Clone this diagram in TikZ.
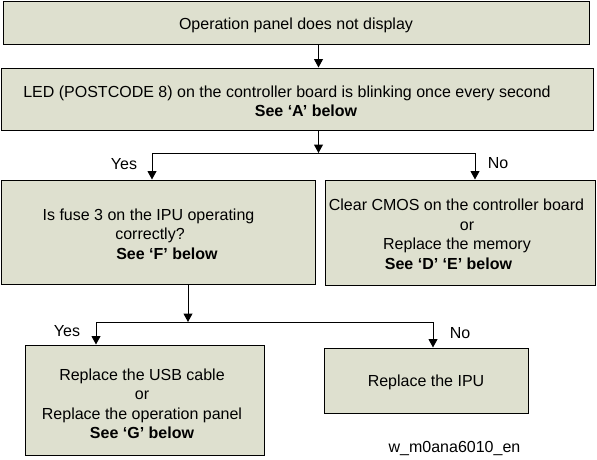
\documentclass[tikz,border=0pt]{standalone}
\usepackage{fontspec}
\setmainfont{Liberation Sans}
\usetikzlibrary{arrows.meta}
\definecolor{boxfill}{RGB}{222,224,207}
\newcommand{\padx}[1]{\rule{#1}{0pt}}
\newcommand{\padtop}[1]{\rule{0pt}{#1}}
\begin{document}
\begin{tikzpicture}[x=1pt,y=-1pt,
  box/.style={draw=black, fill=boxfill, line width=1pt, inner sep=0pt, align=center,
    font=\fontsize{16pt}{19.5pt}\selectfont},
  arr/.style={line width=1pt, -{Triangle[length=8.5pt,width=9pt]}},
  dbl/.style={line width=1pt, {Triangle[length=8.5pt,width=9pt]}-{Triangle[length=8.5pt,width=9pt]}},
  lbl/.style={inner sep=0pt, font=\fontsize{16pt}{19.5pt}\selectfont}]
\useasboundingbox (0,0) rectangle (597,459);
\node[box, minimum width=586pt, minimum height=43pt] (b1) at (296,22.5)
  {\padtop{18pt}Operation panel does not display};
\node[box, minimum width=592pt, minimum height=62pt] (b2) at (297,99)
  {\padtop{16pt}LED (POSTCODE 8) on the controller board is blinking once every second\padx{20pt}\\\padx{18pt}\textbf{See ‘A’ below}};
\node[box, minimum width=314pt, minimum height=104pt] (b3) at (158,232)
  {\padtop{16pt}Is fuse 3 on the IPU operating\padx{19pt}\\correctly?\padx{16pt}\\\padx{18pt}\textbf{See ‘F’ below}};
\node[box, minimum width=270pt, minimum height=105pt] (b4) at (460,232.5)
  {\padtop{15pt}Clear CMOS on the controller board\padx{7pt}\\\padx{14pt}or\\Replace the memory\padx{6pt}\\\textbf{See ‘D’ ‘E’ below}\padx{23pt}};
\node[box, minimum width=239pt, minimum height=110pt] (b5) at (144.5,400)
  {\padtop{19pt}Replace the USB cable\padx{5pt}\\or\padx{5pt}\\Replace the operation panel\padx{5pt}\\\textbf{See ‘G’ below}\padx{5pt}};
\node[box, minimum width=204pt, minimum height=65pt] (b6) at (426,380.5)
  {\padtop{16pt}Replace the IPU};
\coordinate (x1) at (318.5,0);
\coordinate (jy1) at (152,153);
\coordinate (jn1) at (475,153);
\coordinate (x2) at (188,0);
\coordinate (jy2) at (96,322);
\coordinate (jn2) at (433,322);
\draw[arr] (b1.south -| x1) -- (b2.north -| x1);
\draw[arr] (b2.south -| x1) -- (x1 |- jy1);
\draw[dbl] (jy1 |- b3.north) -- (jy1) -- (jn1) -- (jn1 |- b4.north);
\draw[arr] (b3.south -| x2) -- (x2 |- jy2);
\draw[dbl] (jy2 |- b5.north) -- (jy2) -- (jn2) -- (jn2 |- b6.north);
\node[lbl] (y1) at (124,164) {Yes};
\node[lbl] (n1) at (498,163) {No};
\node[lbl] (y2) at (67,331) {Yes};
\node[lbl] (n2) at (460,333) {No};
\node[lbl, anchor=base] (cap) at (454.5,452) {w\_m0ana6010\_en};
\end{tikzpicture}
\end{document}
